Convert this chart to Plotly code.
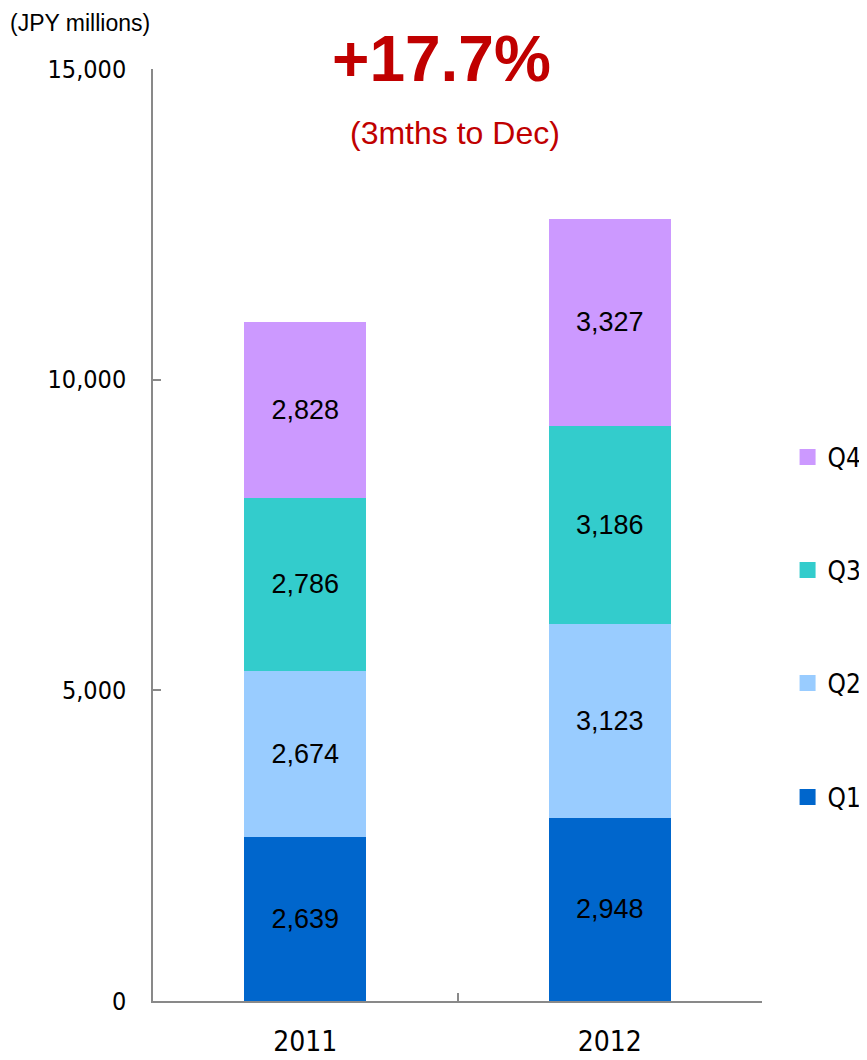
import plotly.graph_objects as go

years = ["2011", "2012"]
quarters = ["Q1", "Q2", "Q3", "Q4"]
q1 = [2639, 2948]
q2 = [2674, 3123]
q3 = [2786, 3186]
q4 = [2828, 3327]
series = [q1, q2, q3, q4]
colors = ["#0066CC", "#99CCFF", "#33CCCC", "#CC99FF"]
y_ticks = [0, 5000, 10000, 15000]

TICK_FONT = "DejaVu Sans Condensed, DejaVu Sans"
LABEL_FONT = "Liberation Sans, Arial"

fig = go.Figure()
for name, vals, col in zip(quarters, series, colors):
    fig.add_trace(go.Bar(
        x=years, y=vals, name=name, marker=dict(color=col, line=dict(width=0)),
        texttemplate="%{y:,}", textposition="inside", insidetextanchor="middle",
        textangle=0, constraintext="none",
        textfont=dict(family=LABEL_FONT, size=27, color="#000000"),
        showlegend=False, hoverinfo="skip",
    ))

# legend entries (one legend per quarter, placed like the original)
legend_y = {"Q4": 0.5837, "Q3": 0.4624, "Q2": 0.3412, "Q1": 0.2189}
legend_ids = {"Q1": "legend", "Q2": "legend2", "Q3": "legend3", "Q4": "legend4"}
for name, col in zip(quarters, colors):
    fig.add_trace(go.Scatter(
        x=[None], y=[None], mode="markers", name=name,
        marker=dict(symbol="square", size=16, color=col),
        legend=legend_ids[name], showlegend=True, hoverinfo="skip",
    ))

legend_common = dict(
    x=1.042, xanchor="left", yanchor="middle", bgcolor="rgba(0,0,0,0)",
    font=dict(family=TICK_FONT, size=26, color="#000000"),
    itemsizing="trace", itemwidth=30, borderwidth=0,
)
layout_legends = {}
for name in quarters:
    layout_legends[legend_ids[name]] = dict(legend_common, y=legend_y[name])

# the page body adds an 8px margin, so the figure is 8px smaller on each axis
fig.update_layout(
    template="none",
    width=859, height=1052,
    margin=dict(l=145, r=105, t=61, b=59, pad=0, autoexpand=False),
    plot_bgcolor="#FFFFFF", paper_bgcolor="#FFFFFF",
    barmode="stack", bargap=0.6,
    **layout_legends,
)

fig.update_xaxes(
    type="category", range=[-0.5, 1.5], automargin=False,
    showline=True, linecolor="#898989", linewidth=1.5,
    ticks="inside", tickson="boundaries", ticklen=8, tickcolor="#898989", tickwidth=1.5,
    tickfont=dict(family=TICK_FONT, size=28, color="#000000"),
    ticklabelstandoff=15,
    showgrid=False, zeroline=False,
)
fig.update_yaxes(
    range=[0, 15000], tickvals=y_ticks, tickformat=",", automargin=False,
    showline=True, linecolor="#898989", linewidth=1.5,
    ticks="inside", ticklen=8, tickcolor="#898989", tickwidth=1.5,
    tickfont=dict(family=TICK_FONT, size=25, color="#000000"),
    ticklabelstandoff=20,
    showgrid=False, zeroline=False,
)

fig.add_annotation(text="(JPY millions)", xref="paper", yref="paper",
                   x=-0.2375, y=1.0494, xanchor="left", yanchor="middle", showarrow=False,
                   font=dict(family=LABEL_FONT, size=23, color="#000000"))
fig.add_annotation(text="<b>+17.7%</b>", xref="paper", yref="paper",
                   x=0.4745, y=1.0106, xanchor="center", yanchor="middle", showarrow=False,
                   font=dict(family=LABEL_FONT, size=64, color="#C00000"))
fig.add_annotation(text="(3mths to Dec)", xref="paper", yref="paper",
                   x=0.496, y=0.9313, xanchor="center", yanchor="middle", showarrow=False,
                   font=dict(family=LABEL_FONT, size=32, color="#C00000"))

fig.write_html("out.html")
